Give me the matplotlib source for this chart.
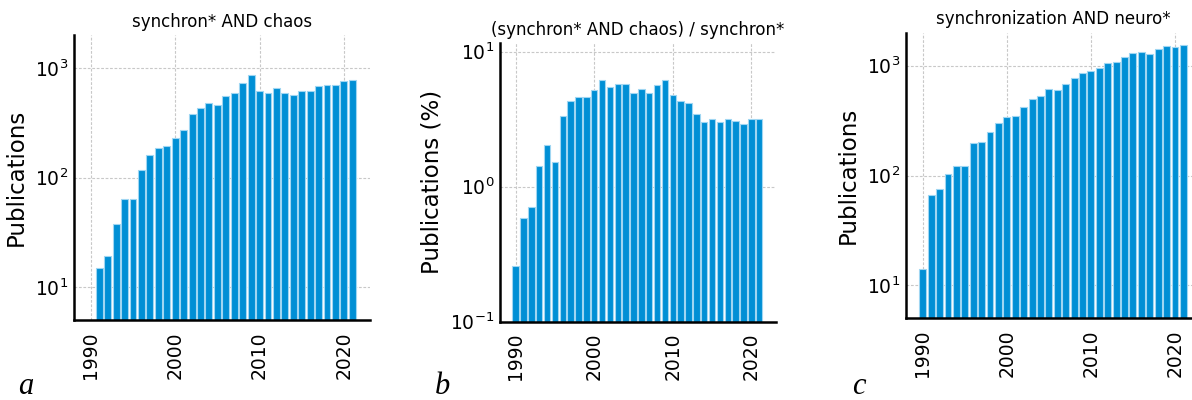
import numpy as np
import matplotlib
matplotlib.use("Agg")
import matplotlib.pyplot as plt

plt.rcParams['mathtext.fontset'] = 'dejavusans'

years_a = list(range(1991, 2022))
pubs_a = [15, 19, 38, 64, 64, 118, 162, 185, 192, 231, 273, 377, 428, 478, 456,
          554, 587, 729, 857, 620, 595, 656, 595, 562, 616, 620, 680, 704, 704, 766, 782]

years_b = list(range(1990, 2022))
pct_b = [0.259, 0.582, 0.703, 1.415, 2.03, 1.53, 3.33, 4.33, 4.58, 4.58, 5.19, 6.13,
         5.50, 5.75, 5.78, 4.93, 5.28, 4.93, 5.65, 6.16, 4.74, 4.35, 4.16, 3.48,
         3.01, 3.15, 3.02, 3.15, 3.06, 2.90, 3.18, 3.18]

years_c = list(range(1990, 2022))
pubs_c = [14.0, 67, 75.5, 103, 123, 123, 196, 204, 250, 304, 340, 348, 417, 497, 525,
          613, 604, 685, 777, 857, 888, 946, 1058, 1087, 1200, 1305, 1342, 1268, 1419,
          1511, 1480, 1554]

titles = ["synchron* AND chaos", "(synchron* AND chaos) / synchron*", "synchronization AND neuro*"]
ylabels = ["Publications", "Publications (%)", "Publications"]
panel_labels = ["a", "b", "c"]
xticks = [1990, 2000, 2010, 2020]

BAR = "#008fd5"
EDGE = "#9fd6f2"

W, H = 1192, 400
fig = plt.figure(figsize=(W / 100, H / 100), dpi=100)

def frac(l, t, r, b):
    return [l / W, (H - b) / H, (r - l) / W, (b - t) / H]

rects = [frac(74, 35, 370, 320), frac(500, 43, 775.7, 321.7), frac(906, 32.7, 1201, 318.3)]
data = [(years_a, pubs_a, (5, 2000)), (years_b, pct_b, (0.1, 11.6)), (years_c, pubs_c, (5, 2000))]
label_pos = [(18, 394), (435, 394), (852, 394)]

for i, (rect, (x, y, yl)) in enumerate(zip(rects, data)):
    ax = fig.add_axes(rect)
    ax.set_yscale('log')
    ax.bar(x, y, width=0.82, color=BAR, edgecolor=EDGE, linewidth=0.8, zorder=3)
    ax.set_ylim(*yl)
    ax.set_xlim(1988, 2023.1)
    ax.set_xticks(xticks)
    ax.set_xticklabels([str(t) for t in xticks], rotation=90)
    ax.minorticks_off()
    ax.tick_params(axis='both', which='both', length=0, labelsize=13.5)
    ax.tick_params(axis='x', pad=8)
    ax.tick_params(axis='y', pad=4)
    ax.grid(True, which='major', linestyle=(0, (2.5, 1.5)), color='#c8c8c8', linewidth=0.8, zorder=0)
    for s in ['top', 'right']:
        ax.spines[s].set_visible(False)
    for s in ['left', 'bottom']:
        ax.spines[s].set_linewidth(1.8)
        ax.spines[s].set_color('black')
        ax.spines[s].set_zorder(5)
    ax.set_title(titles[i], fontsize=12, pad=6)
    ax.set_ylabel(ylabels[i], fontsize=16.5, labelpad=5)
    lx, ly = label_pos[i]
    fig.text(lx / W, (H - ly) / H, panel_labels[i], fontsize=22, family='Liberation Serif',
             style='italic', ha='left', va='baseline')

fig.savefig("out.png", dpi=100)
